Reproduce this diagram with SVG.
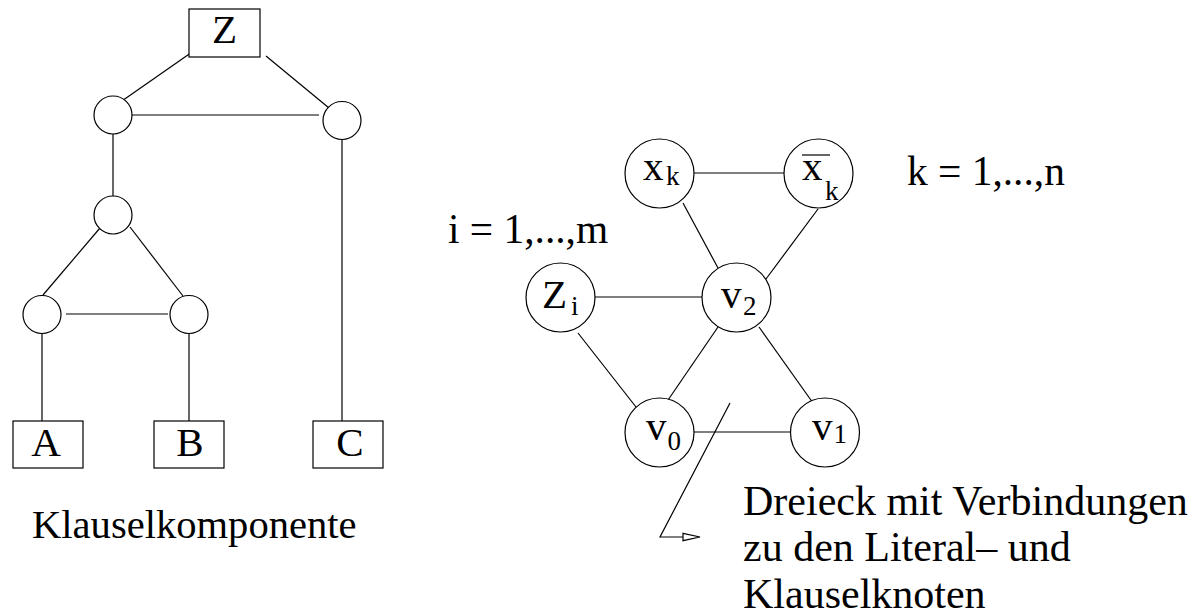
<svg xmlns="http://www.w3.org/2000/svg" width="1195" height="616" viewBox="0 0 1195 616">
<style>
.s{fill:none;stroke:#000;stroke-width:1.2}
.n{fill:#fff;stroke:#000;stroke-width:1.2}
.t{font-family:"Liberation Serif","Times New Roman",serif;font-size:41px;fill:#000}
.sub{font-family:"Liberation Serif","Times New Roman",serif;font-size:27px;fill:#000}
</style>
<g id="connectors" class="s">
<line x1="195" y1="50" x2="119" y2="103"/>
<line x1="266" y1="56" x2="329" y2="108"/>
<line x1="132" y1="115" x2="319" y2="115"/>
<line x1="113" y1="134" x2="113" y2="196"/>
<line x1="100" y1="228" x2="43" y2="295"/>
<line x1="130" y1="227" x2="183" y2="296"/>
<line x1="66" y1="314" x2="168" y2="314"/>
<line x1="42" y1="333" x2="42" y2="426"/>
<line x1="189" y1="333" x2="189" y2="426"/>
<line x1="342" y1="139" x2="342" y2="426"/>
<line x1="694" y1="173" x2="784" y2="173"/>
<line x1="683" y1="203" x2="718" y2="268"/>
<line x1="818" y1="209" x2="766" y2="279"/>
<line x1="595" y1="297" x2="702" y2="297"/>
<line x1="578" y1="333" x2="636" y2="407"/>
<line x1="718" y1="327" x2="666" y2="403"/>
<line x1="759" y1="327" x2="813" y2="403"/>
<line x1="694" y1="432" x2="791" y2="432"/>
<polyline points="730,403 660,537 683,537"/>
<polygon points="683,533.3 700,537 683,540.7" fill="#fff"/>
</g>
<g id="nodeZ"><rect class="n" x="189" y="9" width="71" height="48"/><text class="t" x="224.5" y="43" text-anchor="middle">Z</text></g>
<g id="c1"><circle class="n" cx="113" cy="115" r="19"/></g>
<g id="c2"><circle class="n" cx="342" cy="120.5" r="19"/></g>
<g id="c3"><circle class="n" cx="113" cy="215" r="19"/></g>
<g id="c4"><circle class="n" cx="42" cy="314.5" r="19"/></g>
<g id="c5"><circle class="n" cx="189" cy="314.5" r="19"/></g>
<g id="nodeA"><rect class="n" x="13" y="421" width="70" height="47"/><text class="t" x="46" y="456" text-anchor="middle">A</text></g>
<g id="nodeB"><rect class="n" x="154" y="421" width="70" height="47"/><text class="t" x="190" y="456" text-anchor="middle">B</text></g>
<g id="nodeC"><rect class="n" x="313" y="421" width="70" height="47"/><text class="t" x="350" y="456" text-anchor="middle">C</text></g>
<g id="label-klausel"><text class="t" x="32" y="538" style="font-size:40.6px">Klauselkomponente</text></g>
<g id="nodeXk"><circle class="n" cx="659.5" cy="173.5" r="34.5"/><text class="t" x="643" y="180">x</text><text class="sub" x="666" y="185">k</text></g>
<g id="nodeXbar"><circle class="n" cx="818.5" cy="173.5" r="34.5"/><text class="t" x="802" y="180">x</text><text class="sub" x="825" y="200">k</text><line class="s" x1="802" y1="155" x2="830" y2="155"/></g>
<g id="nodeZi"><circle class="n" cx="560.5" cy="297.5" r="34.5"/><text class="t" x="542" y="308">Z</text><text class="sub" x="571" y="315">i</text></g>
<g id="nodeV2"><circle class="n" cx="736.5" cy="297.5" r="34.5"/><text class="t" x="721" y="308">v</text><text class="sub" x="743" y="315">2</text></g>
<g id="nodeV0"><circle class="n" cx="659.5" cy="432.5" r="34.5"/><text class="t" x="646" y="440">v</text><text class="sub" x="667.5" y="450">0</text></g>
<g id="nodeV1"><circle class="n" cx="825" cy="432.5" r="34.5"/><text class="t" x="812" y="440">v</text><text class="sub" x="833.5" y="443">1</text></g>
<g id="label-k"><text class="t" x="907" y="185" style="font-size:41.4px">k = 1,...,n</text></g>
<g id="label-i"><text class="t" x="448" y="243" style="font-size:41.4px">i = 1,...,m</text></g>
<g id="label-dreieck"><text class="t" x="743" y="515" style="font-size:42px">Dreieck mit Verbindungen</text><text class="t" x="743" y="561" style="font-size:42px">zu den Literal– und</text><text class="t" x="743" y="608" style="font-size:42px">Klauselknoten</text></g>
</svg>
